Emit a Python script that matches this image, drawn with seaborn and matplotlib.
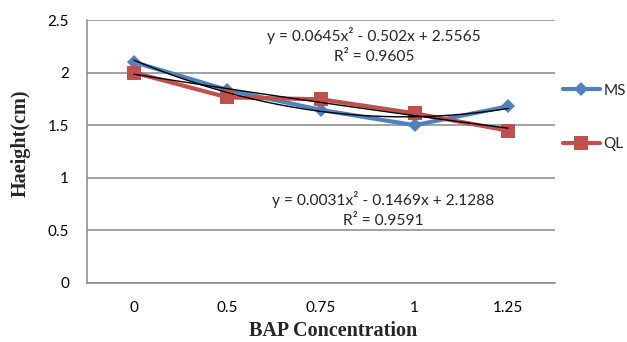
import numpy as np
import pandas as pd
import matplotlib
matplotlib.use('Agg')
import matplotlib.pyplot as plt
import seaborn as sns
from matplotlib.lines import Line2D

categories = ['0', '0.5', '0.75', '1', '1.25']
ms = [2.10, 1.835, 1.645, 1.50, 1.68]
ql = [2.00, 1.765, 1.746, 1.613, 1.448]
ms_coef = [0.0645, -0.502, 2.5565]
ql_coef = [0.0031, -0.1469, 2.1288]
ms_eq = 'y = 0.0645x² - 0.502x + 2.5565'
ms_r2 = 'R² = 0.9605'
ql_eq = 'y = 0.0031x² - 0.1469x + 2.1288'
ql_r2 = 'R² = 0.9591'
yticks = [0, 0.5, 1, 1.5, 2, 2.5]
ytick_labels = ['0', '0.5', '1', '1.5', '2', '2.5']

BLUE = '#4F81BD'
RED = '#C0504D'
GRID = '#878787'

sns.set_theme(style='white')
plt.rcParams['font.family'] = ['Lato', 'DejaVu Sans']

W, H = 627, 342
fig = plt.figure(figsize=(W / 100, H / 100), dpi=100)
ax = fig.add_axes([87 / W, 1 - 283 / H, 468 / W, 263 / H])

pos = np.arange(len(categories))
sns.lineplot(x=pos, y=ms, color=BLUE, lw=3, marker='D', markersize=7.5,
             markeredgewidth=0, ax=ax, zorder=3)
sns.lineplot(x=pos, y=ql, color=RED, lw=3, marker='s', markersize=9.5,
             markeredgewidth=0, ax=ax, zorder=4)

xs = np.linspace(1, len(categories), 200)
sns.lineplot(x=xs - 1, y=np.polyval(ms_coef, xs), color='black', lw=1.0, ax=ax, zorder=5)
sns.lineplot(x=xs - 1, y=np.polyval(ql_coef, xs), color='black', lw=1.0, ax=ax, zorder=5)

ax.set_xlim(-0.5, len(categories) - 0.5)
ax.set_ylim(0, 2.5)
ax.set_xticks(pos)
ax.set_xticklabels(categories)
ax.set_yticks(yticks)
ax.set_yticklabels(ytick_labels)
ax.tick_params(axis='both', length=0, labelsize=11, colors='black')
ax.tick_params(axis='y', pad=13)
ax.tick_params(axis='x', pad=13)
ax.yaxis.grid(True, color=GRID, lw=1.1)
ax.set_axisbelow(True)
for s in ['top', 'right']:
    ax.spines[s].set_visible(False)
for s in ['left', 'bottom']:
    ax.spines[s].set_color(GRID)
    ax.spines[s].set_linewidth(1.1)
ax.set_xlabel('')
ax.set_ylabel('')

def ft(x, y, s, **kw):
    fig.text(x / W, 1 - y / H, s, ha='center', va='center', **kw)

ft(374, 35, ms_eq, fontsize=11.2)
ft(374, 57, ms_r2, fontsize=11.2)
ft(383, 199, ql_eq, fontsize=11.2)
ft(383, 221, ql_r2, fontsize=11.2)

ft(21, 143, 'Haeight(cm)', rotation=90, family='Liberation Serif',
   fontweight='bold', fontsize=14.5)
ft(333, 331, 'BAP Concentration', family='Liberation Serif',
   fontweight='bold', fontsize=14.5)

handles = [Line2D([], [], color=BLUE, lw=3, marker='D', markersize=7.5, markeredgewidth=0),
           Line2D([], [], color=RED, lw=3, marker='s', markersize=9.5, markeredgewidth=0)]
fig.legend(handles, ['MS', 'QL'], loc='center left',
           bbox_to_anchor=(563 / W, 1 - 117.5 / H), frameon=False,
           handlelength=2.4, handletextpad=0.25, labelspacing=2.6, fontsize=11,
           borderpad=0, borderaxespad=0)

fig.savefig('out.png', dpi=100)
